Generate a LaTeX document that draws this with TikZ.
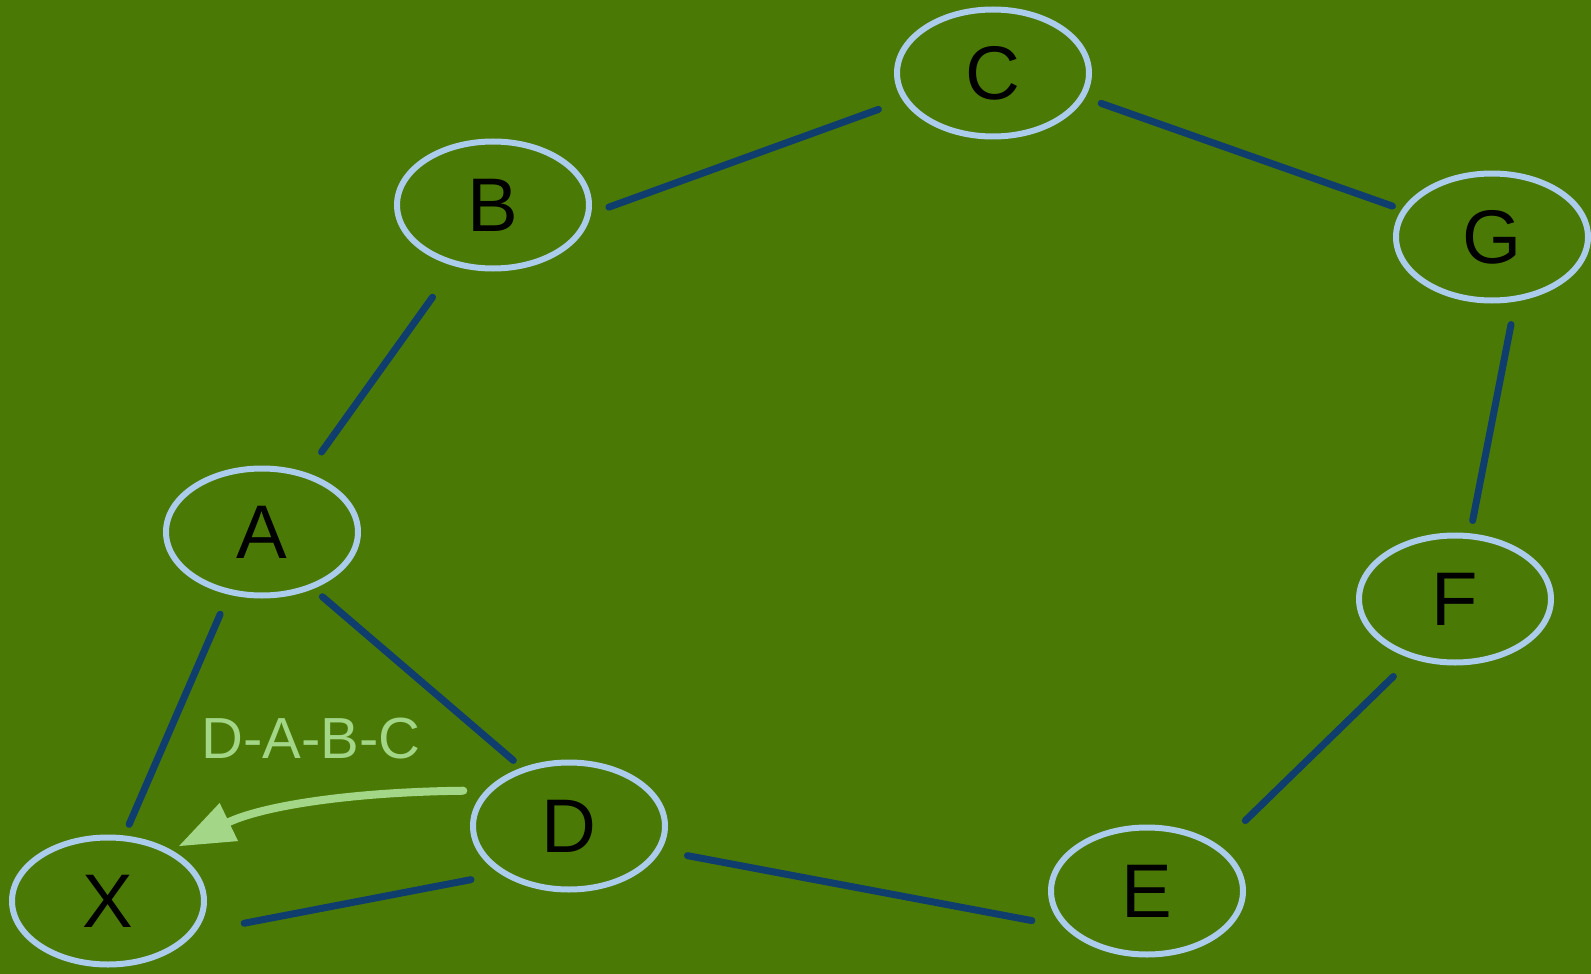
\documentclass[tikz,border=0pt]{standalone}
\usepackage{fontspec}
\setmainfont{Liberation Sans}
\usetikzlibrary{arrows.meta,shapes.geometric}
\definecolor{bggreen}{rgb}{0.29,0.48,0.02}
\definecolor{ringblue}{rgb}{0.67,0.80,0.92}
\definecolor{edgenavy}{rgb}{0.06,0.24,0.43}
\definecolor{routegreen}{rgb}{0.64,0.84,0.53}
\tikzset{
  vertex/.style={ellipse,draw=ringblue,line width=3pt,minimum width=96pt,minimum height=63.5pt,inner sep=0pt,font=\fontsize{38}{42}\selectfont},
  link/.style={draw=edgenavy,line width=3.5pt},
  route/.style={draw=routegreen,line width=4pt,->},
}

\begin{document}
\begin{tikzpicture}[line cap=round,line join=round,>={Triangle[length=28pt,width=20pt]},x=0.5pt,y=-0.5pt]
      \fill[bggreen] (0,0) rectangle (1591,974);
      \node[vertex] (C) at (993,73) {C};
      \node[vertex] (B) at (493,205) {B};
      \node[vertex] (G) at (1492,237) {G};
      \node[vertex] (A) at (262,532) {A};
      \node[vertex] (F) at (1455,599) {F};
      \node[vertex] (D) at (569,826) {D};
      \node[vertex] (E) at (1147,891) {E};
      \node[vertex] (X) at (108,901) {X};
      \foreach \s/\t/\a/\b in {B.355/C.197/9.4pt/13pt, C.345/G.163/8.6pt/5pt,
        G.290/F.77/11.7pt/6.5pt, F.234/E.32/12.7pt/18pt, E.203/D.345/16pt/13.5pt,
        D.215/X.340/15pt/25pt, A.312/D.129/6pt/5.5pt, A.242/X.76/10.7pt/6pt,
        B.238/A.53/19pt/12.7pt}
      \draw[link,shorten <=\a,shorten >=\b] (\s) -- (\t);
      \draw[route,shorten <=11pt,shorten >=4pt] (D.157) .. controls (350,792) and (262,806) .. (X.39);
      \node[text=routegreen,font=\fontsize{29}{33}\selectfont] (path) at (311,739) {D-A-B-C};
    \end{tikzpicture}
\end{document}
